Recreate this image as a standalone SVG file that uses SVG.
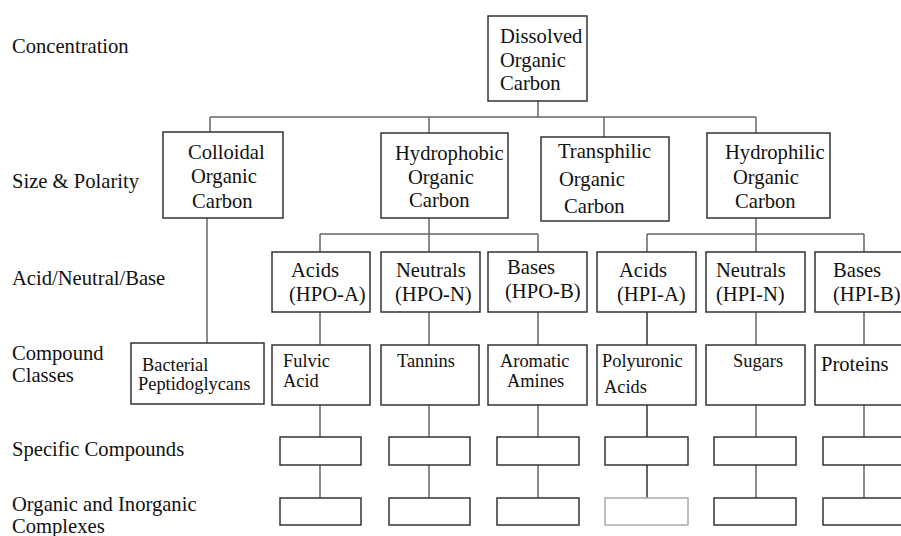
<svg xmlns="http://www.w3.org/2000/svg" width="901" height="536" viewBox="0 0 901 536">
<style>
  text { font-family: "Liberation Serif", "Times New Roman", serif; fill: #111; }
  .lbl { font-size: 20.6px; }
  .t20 { font-size: 20.6px; }
  .t18 { font-size: 18.4px; }
  .box { fill: #fff; stroke: #333; stroke-width: 1.5; }
  .boxl { fill: #fff; stroke: #aaa; stroke-width: 1.5; }
  .ln { stroke: #666; stroke-width: 1.5; fill: none; }
  .lnd { stroke: #333; stroke-width: 1.5; fill: none; }
</style>
<rect width="901" height="536" fill="#fff"/>

<g id="row-labels" class="lbl">
  <text x="12" y="53">Concentration</text>
  <text x="12" y="188">Size &amp; Polarity</text>
  <text x="12" y="285">Acid/Neutral/Base</text>
  <text x="12" y="360">Compound</text>
  <text x="12" y="382">Classes</text>
  <text x="12" y="456">Specific Compounds</text>
  <text x="12" y="511">Organic and Inorganic</text>
  <text x="12" y="533">Complexes</text>
</g>

<g id="connectors">
  <path class="ln" d="M538 101V117M210 117H756M210 117V132M429 117V133M604 117V137M756 117V133"/>
  <path class="ln" d="M207 218V343"/>
  <path class="ln" d="M429 218V234M320 234H538M320 234V252M429 234V252M538 234V252"/>
  <path class="ln" d="M756 218V234M647 234H864M647 234V252M756 234V252M864 234V252"/>
  <path class="ln" d="M320 312V345M429 312V345M538 312V345M756 312V345M864 312V345"/>
  <path class="lnd" d="M647 312V345"/>
  <path class="ln" d="M320 405V437M429 405V437M538 405V437M756 405V437M864 405V437"/>
  <path class="lnd" d="M647 405V437"/>
  <path class="ln" d="M320 465V498M429 465V498M538 465V498M756 465V498M864 465V498"/>
  <path class="lnd" d="M647 465V498"/>
</g>

<g id="doc">
  <rect class="box" x="488" y="16" width="99" height="85"/>
  <text class="t20" x="500" y="43">Dissolved</text>
  <text class="t20" x="500" y="67">Organic</text>
  <text class="t20" x="500" y="90">Carbon</text>
</g>

<g id="colloidal">
  <rect class="box" x="163" y="132" width="120" height="86"/>
  <text class="t20" x="188" y="159">Colloidal</text>
  <text class="t20" x="191" y="183">Organic</text>
  <text class="t20" x="192" y="208">Carbon</text>
</g>

<g id="hydrophobic">
  <rect class="box" x="381" y="133" width="127" height="85"/>
  <text class="t20" x="395" y="160">Hydrophobic</text>
  <text class="t20" x="408" y="184">Organic</text>
  <text class="t20" x="409" y="207">Carbon</text>
</g>

<g id="transphilic">
  <rect class="box" x="541" y="137" width="128" height="84"/>
  <text class="t20" x="558" y="158">Transphilic</text>
  <text class="t20" x="559" y="186">Organic</text>
  <text class="t20" x="564" y="213">Carbon</text>
</g>

<g id="hydrophilic">
  <rect class="box" x="707" y="133" width="123" height="85"/>
  <text class="t20" x="725" y="159">Hydrophilic</text>
  <text class="t20" x="733" y="184">Organic</text>
  <text class="t20" x="735" y="208">Carbon</text>
</g>

<g id="hpo-a">
  <rect class="box" x="272" y="252" width="98" height="60"/>
  <text class="t20" x="291" y="277">Acids</text>
  <text class="t20" x="289" y="301">(HPO-A)</text>
</g>
<g id="hpo-n">
  <rect class="box" x="381" y="252" width="99" height="60"/>
  <text class="t20" x="396" y="277">Neutrals</text>
  <text class="t20" x="395" y="301">(HPO-N)</text>
</g>
<g id="hpo-b">
  <rect class="box" x="488" y="252" width="99" height="60"/>
  <text class="t20" x="507" y="274">Bases</text>
  <text class="t20" x="505" y="298">(HPO-B)</text>
</g>
<g id="hpi-a">
  <rect class="box" x="597" y="252" width="99" height="60"/>
  <text class="t20" x="619" y="277">Acids</text>
  <text class="t20" x="617" y="301">(HPI-A)</text>
</g>
<g id="hpi-n">
  <rect class="box" x="706" y="252" width="99" height="60"/>
  <text class="t20" x="716" y="277">Neutrals</text>
  <text class="t20" x="716" y="301">(HPI-N)</text>
</g>
<g id="hpi-b">
  <rect class="box" x="815" y="252" width="99" height="60"/>
  <text class="t20" x="833" y="277">Bases</text>
  <text class="t20" x="833" y="301">(HPI-B)</text>
</g>

<g id="bacterial">
  <rect class="box" x="131" y="343" width="133" height="61"/>
  <text class="t18" x="142" y="371">Bacterial</text>
  <text class="t18" x="138" y="390">Peptidoglycans</text>
</g>
<g id="fulvic">
  <rect class="box" x="272" y="345" width="98" height="60"/>
  <text class="t18" x="283" y="367">Fulvic</text>
  <text class="t18" x="283" y="387">Acid</text>
</g>
<g id="tannins">
  <rect class="box" x="381" y="345" width="98" height="60"/>
  <text class="t18" x="397" y="367">Tannins</text>
</g>
<g id="aromatic">
  <rect class="box" x="488" y="345" width="99" height="60"/>
  <text class="t18" x="500" y="367">Aromatic</text>
  <text class="t18" x="507" y="387">Amines</text>
</g>
<g id="polyuronic">
  <rect class="box" x="597" y="345" width="99" height="60"/>
  <text class="t18" x="602" y="367">Polyuronic</text>
  <text class="t18" x="604" y="393">Acids</text>
</g>
<g id="sugars">
  <rect class="box" x="706" y="345" width="99" height="60"/>
  <text class="t18" x="733" y="367">Sugars</text>
</g>
<g id="proteins">
  <rect class="box" x="815" y="345" width="99" height="60"/>
  <text class="t20" x="821" y="371">Proteins</text>
</g>

<g id="specific-1"><rect class="box" x="280" y="437" width="81" height="28"/></g>
<g id="specific-2"><rect class="box" x="389" y="437" width="81" height="28"/></g>
<g id="specific-3"><rect class="box" x="497" y="437" width="82" height="28"/></g>
<g id="specific-4"><rect class="box" x="605" y="437" width="83" height="28"/></g>
<g id="specific-5"><rect class="box" x="714" y="437" width="82" height="28"/></g>
<g id="specific-6"><rect class="box" x="823" y="437" width="82" height="28"/></g>

<g id="complex-1"><rect class="box" x="280" y="498" width="81" height="27"/></g>
<g id="complex-2"><rect class="box" x="389" y="498" width="81" height="27"/></g>
<g id="complex-3"><rect class="box" x="497" y="498" width="82" height="27"/></g>
<g id="complex-4"><rect class="boxl" x="605" y="498" width="83" height="27"/></g>
<g id="complex-5"><rect class="box" x="714" y="498" width="82" height="27"/></g>
<g id="complex-6"><rect class="box" x="823" y="498" width="82" height="27"/></g>
</svg>
